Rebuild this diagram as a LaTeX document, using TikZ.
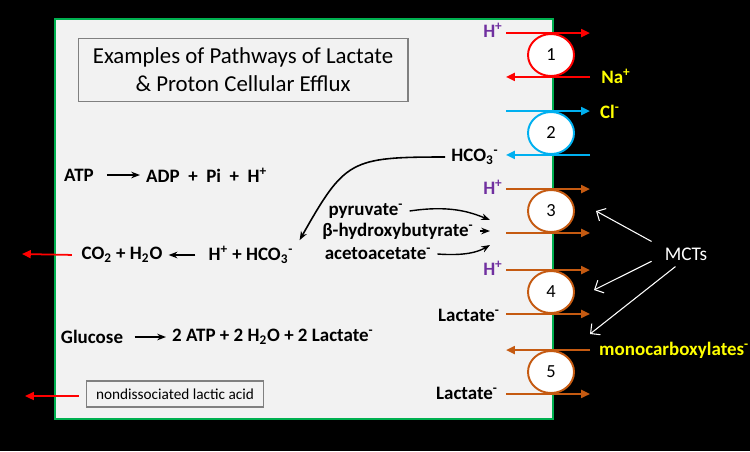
\documentclass[tikz,border=0pt]{standalone}
\usepackage{fontspec}
\setmainfont{Carlito}
\usepackage{tikz}
\usetikzlibrary{arrows.meta,shapes.geometric,positioning,calc}
\definecolor{cellgray}{HTML}{F2F2F2}
\definecolor{cellgreen}{HTML}{00B050}
\definecolor{redc}{HTML}{FF0000}
\definecolor{cyanc}{HTML}{00B0F0}
\definecolor{orangec}{HTML}{C55A11}
\definecolor{purp}{HTML}{7030A0}
\definecolor{yel}{HTML}{FFFF00}
\begin{document}
\begin{tikzpicture}[x=0.02cm, y=-0.02cm,
    lbl/.style={font=\fontsize{10.8}{13}\selectfont\bfseries},
    tport/.style={ellipse, draw, line width=1.1pt, fill=white, minimum width=0.92cm, minimum height=0.84cm, inner sep=0pt, font=\fontsize{10.5}{12}\selectfont},
    arr/.style={-{Stealth[length=5pt]}, line width=0.9pt},
    flux/.style={-{Triangle[length=5pt,width=4.5pt]}, line width=1.1pt},
    ptr/.style={-{Straight Barb[length=4pt]}, white, line width=0.6pt}
]
\useasboundingbox (0,0) rectangle (750,451);
\fill[black] (0,0) rectangle (750,451);
\draw[cellgreen, fill=cellgray, line width=1pt] (55,19) rectangle (553,419);

% title
\node[draw=gray, line width=0.6pt, minimum width=6.6cm, minimum height=1.26cm, align=center, font=\fontsize{13}{16}\selectfont] (title) at (243,70) {Examples of Pathways of Lactate\\\& Proton Cellular Efflux};

% transporters
\node[tport, draw=redc] (t1) at (551,55) {1};
\node[tport, draw=cyanc] (t2) at (551,133) {2};
\node[tport, draw=orangec] (t3) at (551,211) {3};
\node[tport, draw=orangec] (t4) at (551,292) {4};
\node[tport, draw=orangec] (t5) at (551,372) {5};

\coordinate (inx) at (506,0);
\coordinate (outx) at (590,0);

\draw[flux, redc] (inx |- t1.north) -- (outx |- t1.north);
\draw[flux, redc] (outx |- t1.south) -- (inx |- t1.south);
\draw[flux, cyanc] (inx |- t2.north) -- (outx |- t2.north);
\draw[flux, cyanc] (outx |- t2.south) -- (inx |- t2.south);
\draw[flux, orangec] (inx |- t3.north) -- (outx |- t3.north);
\draw[flux, orangec] (inx |- t3.south) -- (outx |- t3.south);
\draw[flux, orangec] (inx |- t4.north) -- (outx |- t4.north);
\draw[flux, orangec] (inx |- t4.south) -- (outx |- t4.south);
\draw[flux, orangec] (outx |- t5.north) -- (inx |- t5.north);
\draw[flux, orangec] (inx |- t5.south) -- (outx |- t5.south);

% ions
\node[lbl, text=purp] (h1) at (493,30) {H\textsuperscript{+}};
\node[lbl, text=yel] (na) at (616,76) {Na\textsuperscript{+}};
\node[lbl, text=yel] (cl) at (610,112) {Cl\textsuperscript{-}};
\node[lbl] (hco) at (475,157) {HCO\textsubscript{3}\textsuperscript{-}};
\node[lbl, text=purp] (h3) at (493,187) {H\textsuperscript{+}};
\node[lbl, text=purp] (h4) at (493,268) {H\textsuperscript{+}};
\node[lbl] (lac4) at (469,315) {Lactate\textsuperscript{-}};
\node[lbl, text=yel, anchor=west] (mono) at (593,350) {monocarboxylates\textsuperscript{-}};
\node[lbl] (lac5) at (467,393) {Lactate\textsuperscript{-}};

% MCTs
\node[text=white, font=\fontsize{11}{13}\selectfont] (mcts) at (686,254) {MCTs};
\coordinate (m3) at (596,211);
\coordinate (m4) at (594,290);
\coordinate (m5) at (590,334);
\draw[ptr] ([xshift=-4pt]mcts.north west) -- (m3);
\draw[ptr] ([xshift=-4pt,yshift=3pt]mcts.south west) -- (m4);
\draw[ptr] ([xshift=-6pt]mcts.south) -- (m5);

% reactions
\node[lbl] (atp) at (79,175) {ATP};
\node[lbl, anchor=west] (adp) at (140,175) {ADP\ \ +\ \ Pi\ \ +\ \ H\textsuperscript{+}};
\draw[arr, shorten <=4pt] (atp.east) -- (adp.west);

\node[lbl] (co2) at (122,255) {CO\textsubscript{2} + H\textsubscript{2}O};
\node[lbl] (hhco) at (251,255) {H\textsuperscript{+} + HCO\textsubscript{3}\textsuperscript{-}};
\coordinate (co2out) at (22,254);
\draw[arr, shorten <=4pt] (hhco.west) -- (co2.east);
\draw[flux, redc, line width=1pt, shorten <=2pt] (co2.west) -- (co2out);
\draw[arr] (hco.west) .. controls (350,157) and (345,160) .. (hhco.north east);

\node[lbl] (pyr) at (366,211) {pyruvate\textsuperscript{-}};
\node[lbl] (bhb) at (398,231) {β-hydroxybutyrate\textsuperscript{-}};
\node[lbl] (aca) at (378,254) {acetoacetate\textsuperscript{-}};
\coordinate (k1) at (490,220);
\coordinate (k2) at (490,231);
\coordinate (k3) at (490,245);
\draw[arr, line width=0.8pt] (pyr.east) .. controls (450,205) and (470,212) .. (k1);
\draw[arr, line width=0.8pt] (bhb.east) -- (k2);
\draw[arr, line width=0.8pt] (aca.east) .. controls (465,256) and (478,252) .. (k3);

\node[lbl] (glc) at (92,337) {Glucose};
\node[lbl, anchor=west] (prod) at (166,337) {2 ATP + 2 H\textsubscript{2}O + 2 Lactate\textsuperscript{-}};
\draw[arr, shorten <=3pt] (glc.east) -- (prod.west);

\node[draw=gray, line width=0.6pt, minimum width=3.54cm, minimum height=0.52cm, font=\fontsize{8.7}{11}\selectfont] (nla) at (175,394) {nondissociated lactic acid};
\coordinate (nlaout) at (25,396);
\draw[flux, redc, line width=1pt, shorten <=4pt] (nla.west |- nlaout) -- (nlaout);
\end{tikzpicture}
\end{document}
